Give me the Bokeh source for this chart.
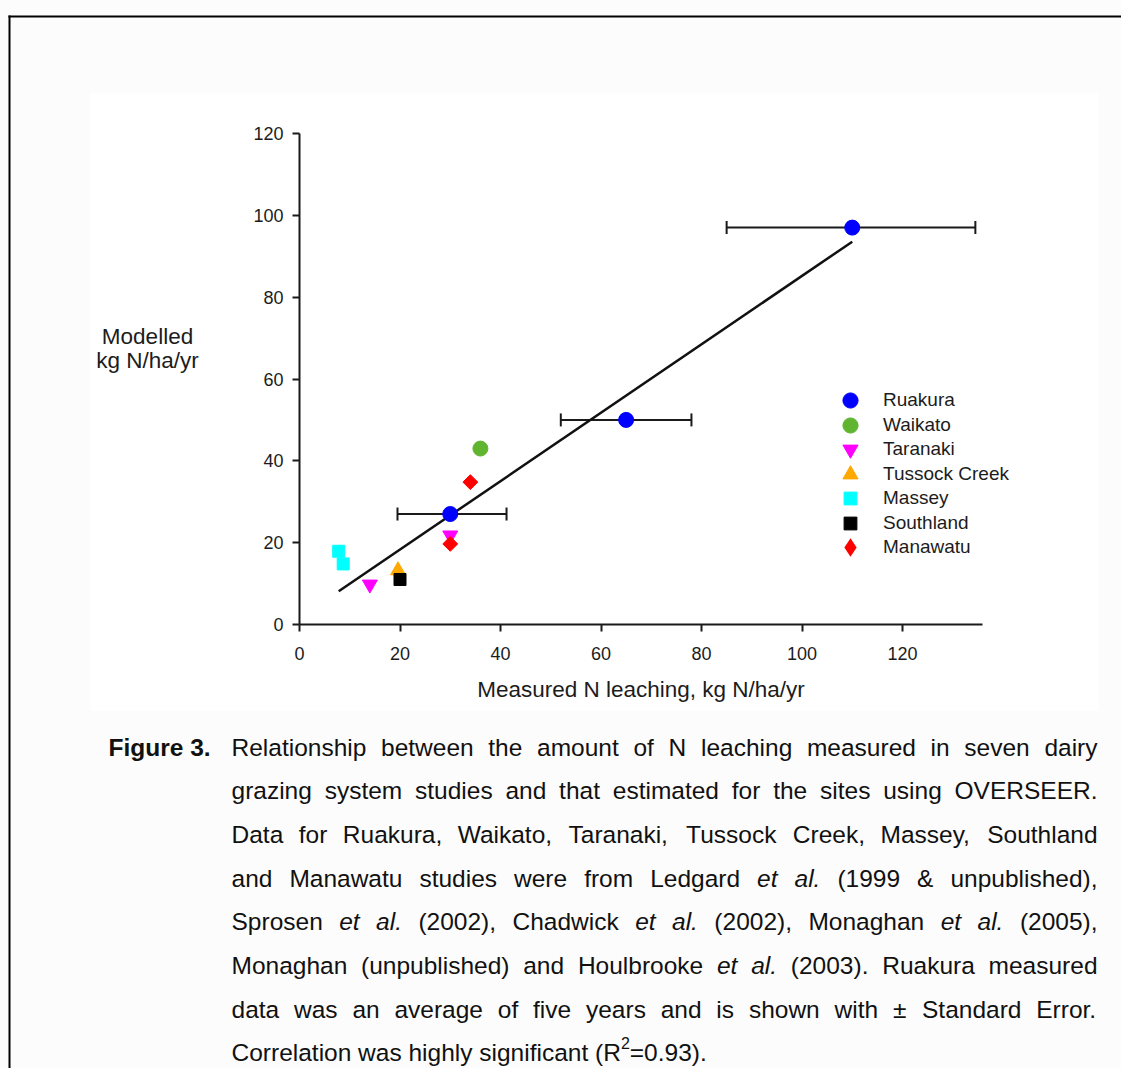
import math
from bokeh.plotting import figure
from bokeh.models import (Range1d, FixedTicker, Legend, LegendItem, Whisker,
                          ColumnDataSource, TeeHead)
from bokeh.core.properties import value, field
from bokeh.embed import file_html
from bokeh.resources import INLINE

# ---------------- data ----------------
sites = ["Ruakura", "Waikato", "Taranaki", "Tussock Creek", "Massey", "Southland", "Manawatu"]

ruakura_measured = [110, 65, 30]
ruakura_modelled = [97, 50, 27]
ruakura_se_low = [85, 52, 19.5]
ruakura_se_high = [134.5, 78, 41.2]

waikato_measured = [36]
waikato_modelled = [43]
taranaki_measured = [14, 30]
taranaki_modelled = [9.8, 21.8]
tussock_measured = [19.6]
tussock_modelled = [13.2]
massey_measured = [7.8, 8.7]
massey_modelled = [17.9, 14.8]
southland_measured = [20]
southland_modelled = [11]
manawatu_measured = [34, 30]
manawatu_modelled = [34.8, 19.7]

fit_slope = 0.836
fit_intercept = 1.6

x_ticks = [0, 20, 40, 60, 80, 100, 120]
y_ticks = [0, 20, 40, 60, 80, 100, 120]
x_axis_end = 135.9
y_axis_end = 120

x_title = "Measured N leaching, kg N/ha/yr"
y_title_lines = ["Modelled", "kg N/ha/yr"]

caption_label = "Figure 3."
caption_lines = [
    "Relationship between the amount of N leaching measured in seven dairy",
    "grazing system studies and that estimated for the sites using OVERSEER.",
    "Data for Ruakura, Waikato, Taranaki, Tussock Creek, Massey, Southland",
    "and Manawatu studies were from Ledgard _et_ _al._ (1999 & unpublished),",
    "Sprosen _et_ _al._ (2002), Chadwick _et_ _al._ (2002), Monaghan _et_ _al._ (2005),",
    "Monaghan (unpublished) and Houlbrooke _et_ _al._ (2003). Ruakura measured",
    "data was an average of five years and is shown with \u00b1 Standard Error.",
    "Correlation was highly significant (R^2^=0.93).",
]

# ---------------- styles / geometry (pixels) ----------------
FONT = "Liberation Sans"
TXT = "#1c1c1c"
PAGE_BG = "#fcfcfc"
W, H = 1121, 1068
X0_PX, Y0_PX = 299, 624          # pixel position of the (0, 0) corner of the axes
PX_PER_X = 5.025
PX_PER_Y = 491 / 120.0

site_style = {
    "Ruakura": dict(marker="circle", color="#0000ff", size=15, angle=0, lg=38),
    "Waikato": dict(marker="circle", color="#60b530", size=15, angle=0, lg=38),
    "Taranaki": dict(marker="inverted_triangle", color="#ff00ff", size=15, angle=0, lg=38),
    "Tussock Creek": dict(marker="triangle", color="#ffa800", size=15, angle=0, lg=38),
    "Massey": dict(marker="square", color="#00ffff", size=12, angle=0, lg=32),
    "Southland": dict(marker="square", color="#000000", size=12, angle=0, lg=32),
    "Manawatu": dict(marker="square", color="#ff0000", size=10.5, angle=math.pi / 4, lg=46),
}
site_data = {
    "Ruakura": (ruakura_measured, ruakura_modelled),
    "Waikato": (waikato_measured, waikato_modelled),
    "Taranaki": (taranaki_measured, taranaki_modelled),
    "Tussock Creek": (tussock_measured, tussock_modelled),
    "Massey": (massey_measured, massey_modelled),
    "Southland": (southland_measured, southland_modelled),
    "Manawatu": (manawatu_measured, manawatu_modelled),
}

x_range = Range1d(-X0_PX / PX_PER_X, (W - X0_PX) / PX_PER_X)
y_range = Range1d(-(H - Y0_PX) / PX_PER_Y, Y0_PX / PX_PER_Y)
p = figure(width=W, height=H, x_range=x_range, y_range=y_range,
           output_backend="svg", toolbar_location=None,
           min_border=0, min_border_left=0, min_border_right=0, min_border_top=0,
           min_border_bottom=0)
p.extra_x_ranges = {"px": Range1d(0, W)}
p.extra_y_ranges = {"px": Range1d(H, 0)}
p.outline_line_color = None
p.grid.grid_line_color = None
p.background_fill_color = PAGE_BG
p.border_fill_color = PAGE_BG

# white figure panel and the page frame lines (pixel coordinates)
p.quad(left=[90], right=[1098], top=[93], bottom=[710], fill_color="#ffffff", line_color=None,
       x_range_name="px", y_range_name="px", level="underlay")
p.quad(left=[8, 8], right=[10, W], top=[15, 15], bottom=[H, 17], fill_color="#000000",
       line_color=None, x_range_name="px", y_range_name="px")

for ax, ticks, end in ((p.xaxis, x_ticks, x_axis_end), (p.yaxis, y_ticks, y_axis_end)):
    ax.ticker = FixedTicker(ticks=ticks)
    ax.fixed_location = 0
    ax.bounds = (0, end)
    ax.minor_tick_line_color = None
    ax.axis_line_color = "#1a1a1a"
    ax.axis_line_width = 2
    ax.major_tick_line_color = "#1a1a1a"
    ax.major_tick_line_width = 2
    ax.major_tick_out = 7
    ax.major_tick_in = 0
    ax.major_label_text_font = FONT
    ax.major_label_text_font_size = "18px"
    ax.major_label_text_color = TXT
p.yaxis.major_label_standoff = 9
p.xaxis.major_label_standoff = 15
p.xaxis.axis_label = x_title
p.xaxis.axis_label_text_font = FONT
p.xaxis.axis_label_text_font_size = "22.5px"
p.xaxis.axis_label_text_font_style = "normal"
p.xaxis.axis_label_text_color = TXT
p.xaxis.axis_label_standoff = 14

# y title: horizontal, two lines, left of the axis
p.text(x=[147, 147], y=[336, 360], text=y_title_lines, text_font=value(FONT),
       text_font_size="22.5px", text_color=TXT, text_align="center",
       text_baseline="alphabetic", x_range_name="px", y_range_name="px")

# regression line over the measured range
all_x = [v for s in sites for v in site_data[s][0]]
fit_x = [min(all_x), max(all_x)]
fit_y = [fit_slope * v + fit_intercept for v in fit_x]
p.line(fit_x, fit_y, line_color="#111111", line_width=2.5)

renderers = {}
# diamond symbol used for the Manawatu legend entry (drawn small, hidden under the points)
renderers["Manawatu_legend"] = p.scatter(manawatu_measured, manawatu_modelled, marker="diamond",
                                         size=8, fill_color="#ff0000", line_color=None)
for s in sites:
    xs, ys = site_data[s]
    st = site_style[s]
    renderers[s] = p.scatter(xs, ys, marker=st["marker"], size=st["size"], angle=st["angle"],
                             fill_color=st["color"], line_color=st["color"], line_width=1)

# standard error whiskers for Ruakura
src = ColumnDataSource(dict(base=ruakura_modelled, lower=ruakura_se_low, upper=ruakura_se_high))
p.add_layout(Whisker(base="base", lower="lower", upper="upper", dimension="width", source=src,
                     line_color="#1a1a1a", line_width=2,
                     lower_head=TeeHead(size=13, line_color="#1a1a1a", line_width=2),
                     upper_head=TeeHead(size=13, line_color="#1a1a1a", line_width=2)))

# legend: one entry per Legend so that row pitch and symbol size can both match
LEG_MARKER_X, LEG_TEXT_X, LEG_ROW0, LEG_PITCH = 850, 883, 400, 24.5
for i, s in enumerate(sites):
    g = site_style[s]["lg"]
    yc = LEG_ROW0 + i * LEG_PITCH
    left = LEG_MARKER_X - g / 2
    rend = renderers["Manawatu_legend"] if s == "Manawatu" else renderers[s]
    lg = Legend(items=[LegendItem(label=s, renderers=[rend])],
                location=(left, H - (yc + g / 2)),
                glyph_width=g, glyph_height=g, label_height=g, spacing=0,
                label_standoff=int(round(LEG_TEXT_X - left - g)), padding=0, margin=0,
                label_text_font=FONT, label_text_font_size="19px", label_text_color=TXT,
                border_line_color=None, background_fill_alpha=0)
    p.add_layout(lg)

# ---------------- caption (justified) ----------------
REG = {
    'A': 667, 'B': 667, 'C': 722, 'D': 722, 'E': 667, 'F': 611, 'G': 778, 'H': 722, 'I': 278,
    'J': 500, 'K': 667, 'L': 556, 'M': 833, 'N': 722, 'O': 778, 'P': 667, 'Q': 778, 'R': 722,
    'S': 667, 'T': 611, 'U': 722, 'V': 667, 'W': 944, 'X': 667, 'Y': 667, 'Z': 611,
    'a': 556, 'b': 556, 'c': 500, 'd': 556, 'e': 556, 'f': 278, 'g': 556, 'h': 556, 'i': 222,
    'j': 222, 'k': 500, 'l': 222, 'm': 833, 'n': 556, 'o': 556, 'p': 556, 'q': 556, 'r': 333,
    's': 500, 't': 278, 'u': 556, 'v': 500, 'w': 722, 'x': 500, 'y': 500, 'z': 500,
    ' ': 278, ',': 278, '.': 278, '(': 333, ')': 333, '&': 667, '\u00b1': 584, '=': 584,
    '/': 278, '-': 333,
}
for d in "0123456789":
    REG[d] = 556


def tw(s, size):
    return sum(REG.get(c, 556) for c in s) * size / 1000.0


CAP_SIZE = 24.5
SUP_SIZE = 16.0
X0, X1 = 231.0, 1097.0
BASE0, LEAD = 746.7, 43.66


def word_segments(w):
    if w.startswith("_") and w.endswith("_") and len(w) > 2:
        return [(w[1:-1], "italic", False)]
    if "^" in w:
        parts = w.split("^")
        return [(t, "normal", i % 2 == 1) for i, t in enumerate(parts) if t]
    return [(w, "normal", False)]


def seg_width(seg):
    t, _, sup = seg
    return tw(t, SUP_SIZE if sup else CAP_SIZE)


cap = dict(x=[108.0], y=[BASE0], text=[caption_label], style=["bold"], size=[f"{CAP_SIZE}px"])
for li, line in enumerate(caption_lines):
    words = [word_segments(w) for w in line.split(" ")]
    widths = [sum(seg_width(s) for s in ws) for ws in words]
    last = li == len(caption_lines) - 1
    gap = tw(" ", CAP_SIZE) if last else (X1 - X0 - sum(widths)) / (len(words) - 1)
    y = BASE0 + LEAD * li
    x = X0
    for ws, wd in zip(words, widths):
        xx = x
        for seg in ws:
            t, style, sup = seg
            cap["x"].append(xx)
            cap["y"].append(y - (10 if sup else 0))
            cap["text"].append(t)
            cap["style"].append(style)
            cap["size"].append(f"{SUP_SIZE if sup else CAP_SIZE}px")
            xx += seg_width(seg)
        x += wd + gap

p.text(x="x", y="y", text="text", source=ColumnDataSource(cap), text_font=value(FONT),
       text_font_style=field("style"), text_font_size=field("size"), text_color="#111111",
       text_align="left", text_baseline="alphabetic", x_range_name="px", y_range_name="px")

open("out.html", "w").write(file_html(p, INLINE))
